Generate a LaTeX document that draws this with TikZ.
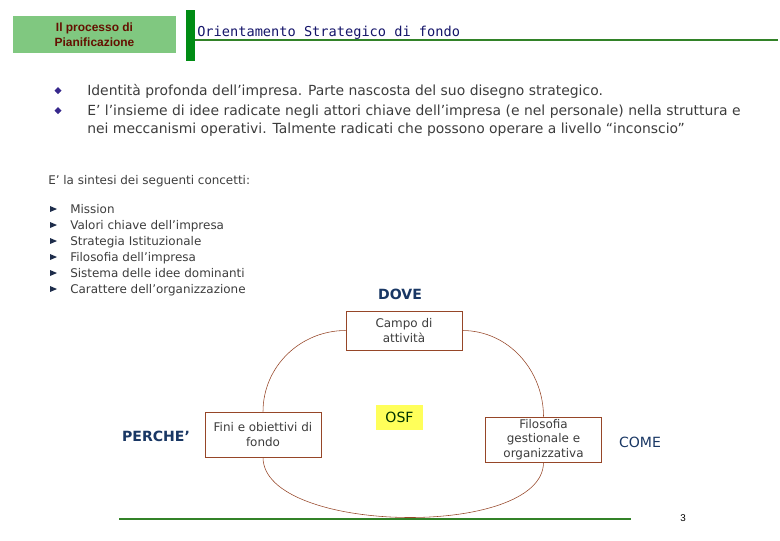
\documentclass[tikz,border=0pt]{standalone}
\usepackage{fontspec}
\setmainfont{DejaVu Sans}
\newfontfamily\headfont{DejaVu Sans Mono}
\newfontfamily\arialfont{Liberation Sans}
\usetikzlibrary{positioning}

\definecolor{verdechiaro}{RGB}{128,200,128}
\definecolor{verdescuro}{RGB}{0,140,20}
\definecolor{verdelinea}{RGB}{50,130,40}
\definecolor{rossoscuro}{RGB}{100,15,0}
\definecolor{blutitolo}{RGB}{20,20,105}
\definecolor{testogrigio}{RGB}{60,60,60}
\definecolor{marrone}{RGB}{150,70,40}
\definecolor{bludomanda}{RGB}{25,55,100}
\definecolor{giallo}{RGB}{255,255,90}
\definecolor{punto}{RGB}{55,40,140}
\definecolor{freccia}{RGB}{30,45,75}

\begin{document}
\begin{tikzpicture}[x=0.025cm, y=0.025cm,
  testo/.style={anchor=base west, inner sep=0pt, text=testogrigio, font=\fontsize{9.9}{12.8}\selectfont},
  voce/.style={anchor=base west, inner sep=0pt, text=testogrigio, font=\fontsize{8.5}{11}\selectfont},
  riquadro/.style={draw=marrone, fill=white, align=center, text=testogrigio, font=\fontsize{8.5}{10.5}\selectfont, inner sep=0pt, minimum width=2.9cm},
  domanda/.style={text=bludomanda, font=\fontsize{10}{12}\selectfont, inner sep=0pt}]
\useasboundingbox (0,0) rectangle (780,-540);

% intestazione
\node[fill=verdechiaro, minimum width=4.075cm, minimum height=0.925cm, align=center, inner sep=0pt, text=rossoscuro, font=\arialfont\bfseries\fontsize{8.5}{10.5}\selectfont] (processo) at (94.5,-34.5) {Il processo di\\Pianificazione};
\fill[verdescuro] (186,-10) rectangle (195,-61);
\draw[verdelinea, line width=1.8pt] (195,-40) -- (778,-40);
\node[anchor=base west, inner sep=0pt, text=blutitolo, font=\headfont\fontsize{9.7}{12}\selectfont] (titolo) at (197,-36) {Orientamento Strategico di fondo};

% punti
\fill[punto] (58,-87) -- (61.5,-90.5) -- (58,-94) -- (54.5,-90.5) -- cycle;
\fill[punto] (58,-107) -- (61.5,-110.5) -- (58,-114) -- (54.5,-110.5) -- cycle;
\node[testo] (identita) at (87,-95.5) {Identità profonda dell’impresa. Parte nascosta del suo disegno strategico.};
\node[testo] (insieme) at (87,-115.5) {E’ l’insieme di idee radicate negli attori chiave dell’impresa (e nel personale) nella struttura e};
\node[testo] (meccanismi) at (87,-133.5) {nei meccanismi operativi. Talmente radicati che possono operare a livello “inconscio”};

% concetti
\node[voce] (sintesi) at (48,-184) {E’ la sintesi dei seguenti concetti:};
\fill[freccia] (50,-206) -- (57,-209) -- (50,-212) -- cycle;
\fill[freccia] (50,-222) -- (57,-225) -- (50,-228) -- cycle;
\fill[freccia] (50,-238) -- (57,-241) -- (50,-244) -- cycle;
\fill[freccia] (50,-254) -- (57,-257) -- (50,-260) -- cycle;
\fill[freccia] (50,-270) -- (57,-273) -- (50,-276) -- cycle;
\fill[freccia] (50,-286) -- (57,-289) -- (50,-292) -- cycle;
\node[voce] (mission) at (70,-213) {Mission};
\node[voce] (valori) at (70,-229) {Valori chiave dell’impresa};
\node[voce] (strategia) at (70,-245) {Strategia Istituzionale};
\node[voce] (filosofia) at (70,-261) {Filosofia dell’impresa};
\node[voce] (sistema) at (70,-277) {Sistema delle idee dominanti};
\node[voce] (carattere) at (70,-293) {Carattere dell’organizzazione};

% schema
\node[domanda, font=\fontsize{10}{12}\selectfont\bfseries] (dove) at (400,-294) {DOVE};
\node[domanda, font=\fontsize{10}{12}\selectfont\bfseries] (perche) at (156,-436) {PERCHE’};
\node[domanda] (come) at (640,-442) {COME};
\node[riquadro, minimum height=0.975cm] (campo) at (404,-330.5) {Campo di\\attività};
\node[riquadro, minimum height=1.125cm] (fini) at (263,-434.5) {Fini e obiettivi di\\fondo};
\node[riquadro, minimum height=1.125cm] (gestione) at (543.5,-439.5) {Filosofia\\gestionale e\\organizzativa};
\node[fill=giallo, minimum width=1.175cm, minimum height=0.625cm, inner sep=0pt, text=black!80!green, font=\fontsize{10}{12}\selectfont] (osf) at (399.5,-417.5) {OSF};
\draw[marrone] (campo.west) to[out=180, in=90] (fini.north);
\draw[marrone] (fini.south) to[out=-90, in=-90, looseness=0.7] (gestione.south);
\draw[marrone] (gestione.north) to[out=90, in=0] (campo.east);

% piede
\draw[verdelinea, line width=0.8pt] (119,-519) -- (631,-519);
\node[font=\arialfont\fontsize{7}{8}\selectfont] (pagina) at (683,-518) {3};
\end{tikzpicture}
\end{document}
